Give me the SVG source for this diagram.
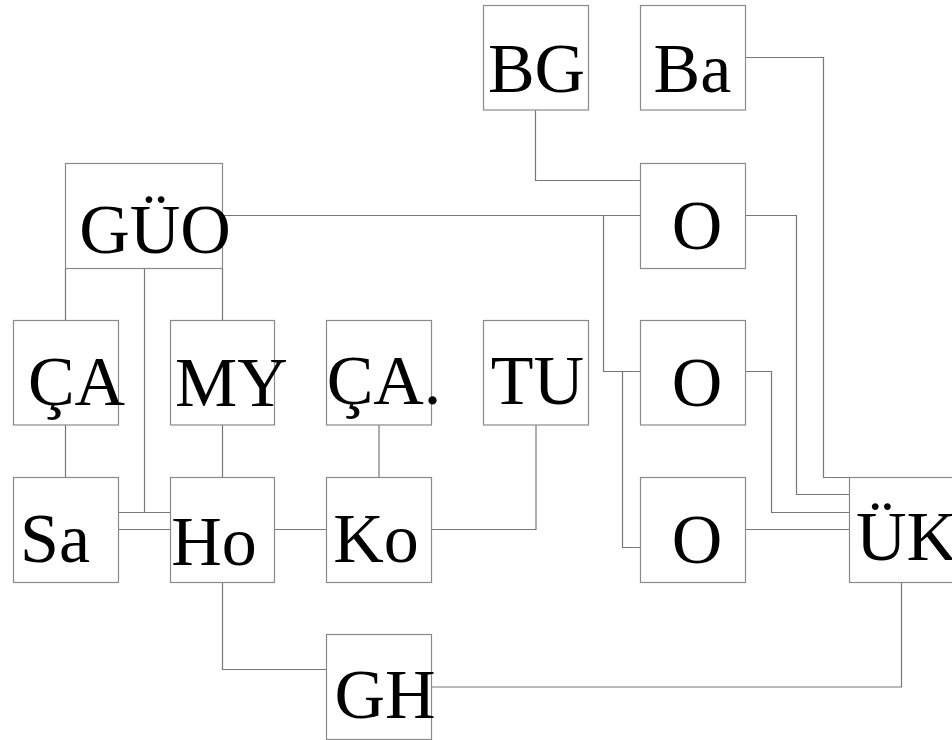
<svg xmlns="http://www.w3.org/2000/svg" width="952" height="740" viewBox="0 0 952 740">
<style>
.b{fill:none;stroke:#8a8a8a;stroke-width:1.2}
.c{fill:none;stroke:#777;stroke-width:1.2}
.t{font-family:"Liberation Serif","Times New Roman",serif;font-size:70px;fill:#000;text-anchor:middle}
</style>
<rect width="952" height="740" fill="#fff"/>
<g id="connectors">
<path class="c" d="M535.5,110 V180.5 H640.5"/>
<path class="c" d="M745.5,57.5 H823.5 V477.5 H849.5"/>
<path class="c" d="M222.5,215.5 H640.5"/>
<path class="c" d="M603.5,215.5 V371.5 H640.5"/>
<path class="c" d="M622.5,371.5 V547.5 H640.5"/>
<path class="c" d="M745.5,215.5 H796.5 V494.5 H849.5"/>
<path class="c" d="M745.5,371.5 H771.5 V512.5 H849.5"/>
<path class="c" d="M745.5,529.5 H849.5"/>
<path class="c" d="M65.5,268.5 V320.5"/>
<path class="c" d="M222.5,268.5 V320.5"/>
<path class="c" d="M144.5,268.5 V512.5"/>
<path class="c" d="M118.5,512.5 H170.5"/>
<path class="c" d="M65.5,425 V477.5"/>
<path class="c" d="M222.5,425 V477.5"/>
<path class="c" d="M118.5,529.5 H170.5"/>
<path class="c" d="M274.5,529.5 H326.5"/>
<path class="c" d="M379,425 V477.5"/>
<path class="c" d="M536,425 V529.5 H431.5"/>
<path class="c" d="M222.5,582.5 V669.5 H326.5"/>
<path class="c" d="M431.5,687 H901.5 V582.5"/>
</g>
<g id="BG"><rect class="b" x="483.5" y="5.5" width="105" height="104.5"/><text class="t" x="536.5" y="91.5">BG</text></g>
<g id="Ba"><rect class="b" x="640.5" y="5.5" width="105" height="104.5"/><text class="t" x="692.5" y="91.5">Ba</text></g>
<g id="GUO"><rect class="b" x="65.5" y="163.5" width="157" height="105"/><text class="t" x="155" y="253">GÜO</text></g>
<g id="O1"><rect class="b" x="640.5" y="163.5" width="105" height="105"/><text class="t" x="697" y="249">O</text></g>
<g id="CA"><rect class="b" x="13.5" y="320.5" width="105" height="104.5"/><text class="t" x="76.5" y="405">ÇA</text></g>
<g id="MY"><rect class="b" x="170.5" y="320.5" width="104" height="104.5"/><text class="t" x="231.5" y="406">MY</text></g>
<g id="CA2"><rect class="b" x="326.5" y="320.5" width="105" height="104.5"/><text class="t" x="384" y="404">ÇA.</text></g>
<g id="TU"><rect class="b" x="483.5" y="320.5" width="105" height="104.5"/><text class="t" x="537.5" y="403.5">TU</text></g>
<g id="O2"><rect class="b" x="640.5" y="320.5" width="105" height="104.5"/><text class="t" x="697" y="406">O</text></g>
<g id="Sa"><rect class="b" x="13.5" y="477.5" width="105" height="105"/><text class="t" x="55" y="561.5">Sa</text></g>
<g id="Ho"><rect class="b" x="170.5" y="477.5" width="104" height="105"/><text class="t" x="214" y="565">Ho</text></g>
<g id="Ko"><rect class="b" x="326.5" y="477.5" width="105" height="105"/><text class="t" x="376" y="561.5">Ko</text></g>
<g id="O3"><rect class="b" x="640.5" y="477.5" width="105" height="105"/><text class="t" x="697" y="563">O</text></g>
<g id="UK"><rect class="b" x="849.5" y="477.5" width="105" height="105"/><text class="t" x="856" y="560" style="text-anchor:start">ÜK</text></g>
<g id="GH"><rect class="b" x="326.5" y="634.5" width="105" height="105"/><text class="t" x="385" y="718">GH</text></g>
</svg>
